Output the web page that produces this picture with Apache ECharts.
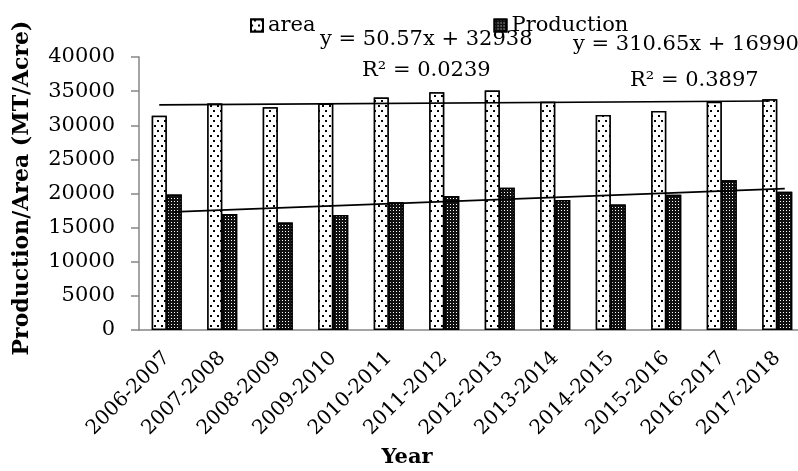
<!DOCTYPE html>
<html>
<head>
<meta charset="utf-8">
<script src="https://cdn.jsdelivr.net/npm/echarts@6/dist/echarts.min.js"></script>
<style>
  html, body { margin: 0; padding: 0; background: #fff; }
  #chart { width: 798px; height: 471px; }
</style>
</head>
<body>
<div id="chart"></div>
<script>
// data
const years = ['2006-2007', '2007-2008', '2008-2009', '2009-2010', '2010-2011', '2011-2012',
  '2012-2013', '2013-2014', '2014-2015', '2015-2016', '2016-2017', '2017-2018'];
const area = [31400, 33200, 32650, 33200, 34050, 34850, 35100, 33450, 31500, 32100, 33450, 33800];
const production = [19850, 17000, 15750, 16850, 18700, 19650, 20850, 19050, 18400, 19800, 21950, 20250];
// trendline end points (first and last year)
const areaTrend = [32989, 33545];
const prodTrend = [17301, 20718];
const yTicks = { min: 0, max: 40000, step: 5000 };

const FONT = 'DejaVu Serif';
const chart = echarts.init(document.getElementById('chart'));

const trendLine = (ends) => ({
  silent: true,
  symbol: 'none',
  label: { show: false },
  lineStyle: { color: '#000', width: 1.6, type: 'solid' },
  data: [[{ coord: [0, ends[0]] }, { coord: [years.length - 1, ends[1]] }]]
});

const option = {
  animation: false,
  textStyle: { fontFamily: FONT, color: '#000' },
  legend: {
    left: 245,
    top: 10,
    itemWidth: 12,
    itemHeight: 12,
    itemGap: 178,
    icon: 'rect',
    textStyle: { fontFamily: FONT, fontSize: 21, color: '#000' },
    data: ['area', 'Production']
  },
  grid: { left: 139, top: 57, width: 666, height: 273, outerBoundsMode: 'none', containLabel: false },
  xAxis: {
    type: 'category',
    data: years,
    axisLine: { lineStyle: { color: '#868686', width: 1.5 } },
    axisTick: { length: 7, lineStyle: { color: '#868686', width: 1.5 } },
    axisLabel: {
      rotate: 45, fontSize: 20, fontFamily: FONT, color: '#000', margin: 25, interval: 0,
      padding: [26, 0, 0, 0]
    }
  },
  yAxis: {
    type: 'value',
    min: yTicks.min,
    max: yTicks.max,
    interval: yTicks.step,
    axisLine: { show: true, lineStyle: { color: '#868686', width: 1.5 } },
    axisTick: { show: true, length: 8, lineStyle: { color: '#868686', width: 1.5 } },
    splitLine: { show: false },
    axisLabel: { fontSize: 21, fontFamily: FONT, color: '#000', margin: 24, formatter: (v) => String(v) }
  },
  series: [
    {
      name: 'area',
      type: 'bar',
      data: area,
      barWidth: 15,
      barGap: '0%',
      itemStyle: {
        color: '#fff',
        borderColor: '#000',
        borderWidth: 1.5,
        decal: {
          symbol: 'rect',
          symbolSize: 1,
          color: '#000',
          backgroundColor: '#fff',
          dashArrayX: [[2, 5], [0, 3, 2, 2]],
          dashArrayY: [2, 3],
          rotation: 0
        }
      },
      markLine: trendLine(areaTrend)
    },
    {
      name: 'Production',
      type: 'bar',
      data: production,
      barWidth: 15,
      itemStyle: {
        color: '#000',
        borderColor: '#000',
        borderWidth: 1.5,
        decal: {
          symbol: 'rect',
          symbolSize: 1,
          color: '#fff',
          backgroundColor: '#111',
          dashArrayX: [1, 2],
          dashArrayY: [1, 2],
          rotation: 0
        }
      },
      markLine: trendLine(prodTrend)
    }
  ],
  graphic: [
    { type: 'text', left: 320, top: 29, style: { text: 'y = 50.57x + 32938', font: '21px ' + FONT, fill: '#000' } },
    { type: 'text', left: 362, top: 60, style: { text: 'R² = 0.0239', font: '21px ' + FONT, fill: '#000' } },
    { type: 'text', left: 573, top: 34, style: { text: 'y = 310.65x + 16990', font: '21px ' + FONT, fill: '#000' } },
    { type: 'text', left: 630, top: 70, style: { text: 'R² = 0.3897', font: '21px ' + FONT, fill: '#000' } },
    {
      type: 'text', x: 22, y: 188, rotation: Math.PI / 2,
      style: { text: 'Production/Area (MT/Acre)', font: 'bold 22px ' + FONT, fill: '#000', align: 'center', verticalAlign: 'middle' }
    },
    {
      type: 'text', x: 407, y: 458,
      style: { text: 'Year', font: 'bold 21px ' + FONT, fill: '#000', align: 'center', verticalAlign: 'middle' }
    }
  ]
};

chart.setOption(option);
</script>
</body>
</html>
